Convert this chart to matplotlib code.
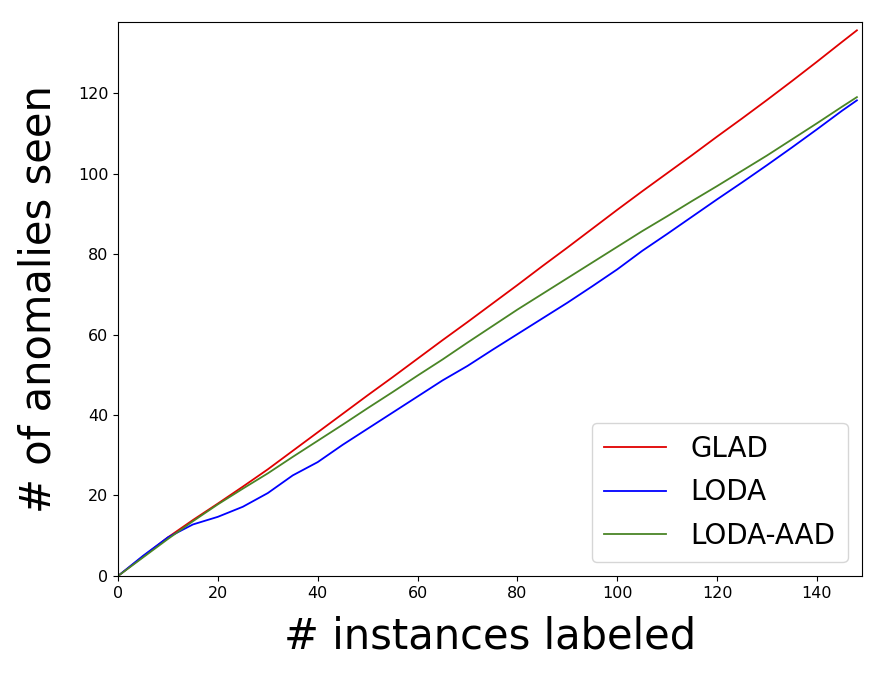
import matplotlib
matplotlib.use("Agg")
import matplotlib.pyplot as plt

x = [0, 5, 10, 15, 20, 25, 30, 35, 40, 45, 50, 55, 60, 65, 70, 75, 80, 85, 90,
     95, 100, 105, 110, 115, 120, 125, 130, 135, 140, 145, 148]

glad = [0, 4.8, 9.6, 13.9, 18.0, 22.2, 26.5, 31.1, 35.7, 40.3, 44.9, 49.4, 54.0,
        58.6, 63.1, 67.7, 72.3, 77.0, 81.6, 86.3, 91.0, 95.6, 100.1, 104.6, 109.2,
        113.7, 118.3, 123.0, 127.8, 132.7, 135.6]
loda = [0, 5.0, 9.6, 12.8, 14.7, 17.2, 20.6, 25.0, 28.3, 32.6, 36.6, 40.6, 44.6,
        48.6, 52.2, 56.2, 60.1, 64.0, 67.9, 72.0, 76.2, 80.8, 85.0, 89.3, 93.6,
        97.8, 102.1, 106.5, 111.0, 115.6, 118.2]
loda_aad = [0, 4.6, 9.2, 13.6, 17.8, 21.7, 25.5, 29.6, 33.6, 37.6, 41.7, 45.7,
            49.8, 53.8, 58.0, 62.1, 66.2, 70.1, 74.0, 77.9, 81.8, 85.7, 89.4, 93.2,
            96.9, 100.7, 104.5, 108.5, 112.5, 116.6, 119.0]

fig = plt.figure(figsize=(8.84, 6.75), dpi=100)
ax = fig.add_axes([0.1335, 0.1467, 0.8415, 0.8203])

ax.plot(x, glad, color="#e00000", lw=1.3, label="GLAD")
ax.plot(x, loda, color="#0000ff", lw=1.3, label="LODA")
ax.plot(x, loda_aad, color="#4a8526", lw=1.3, label="LODA-AAD")

ax.set_xlim(0, 149)
ax.set_ylim(0, 137.6)
ax.set_xticks(range(0, 141, 20))
ax.set_yticks(range(0, 121, 20))
ax.tick_params(labelsize=11.5)
ax.set_xlabel("# instances labeled", fontsize=30, labelpad=11)
ax.set_ylabel("# of anomalies seen", fontsize=30, labelpad=13)
ax.legend(loc="lower right", fontsize=20, handlelength=2.2, borderpad=0.45,
          labelspacing=0.55, handletextpad=0.9)

fig.savefig("out.png", dpi=100)
